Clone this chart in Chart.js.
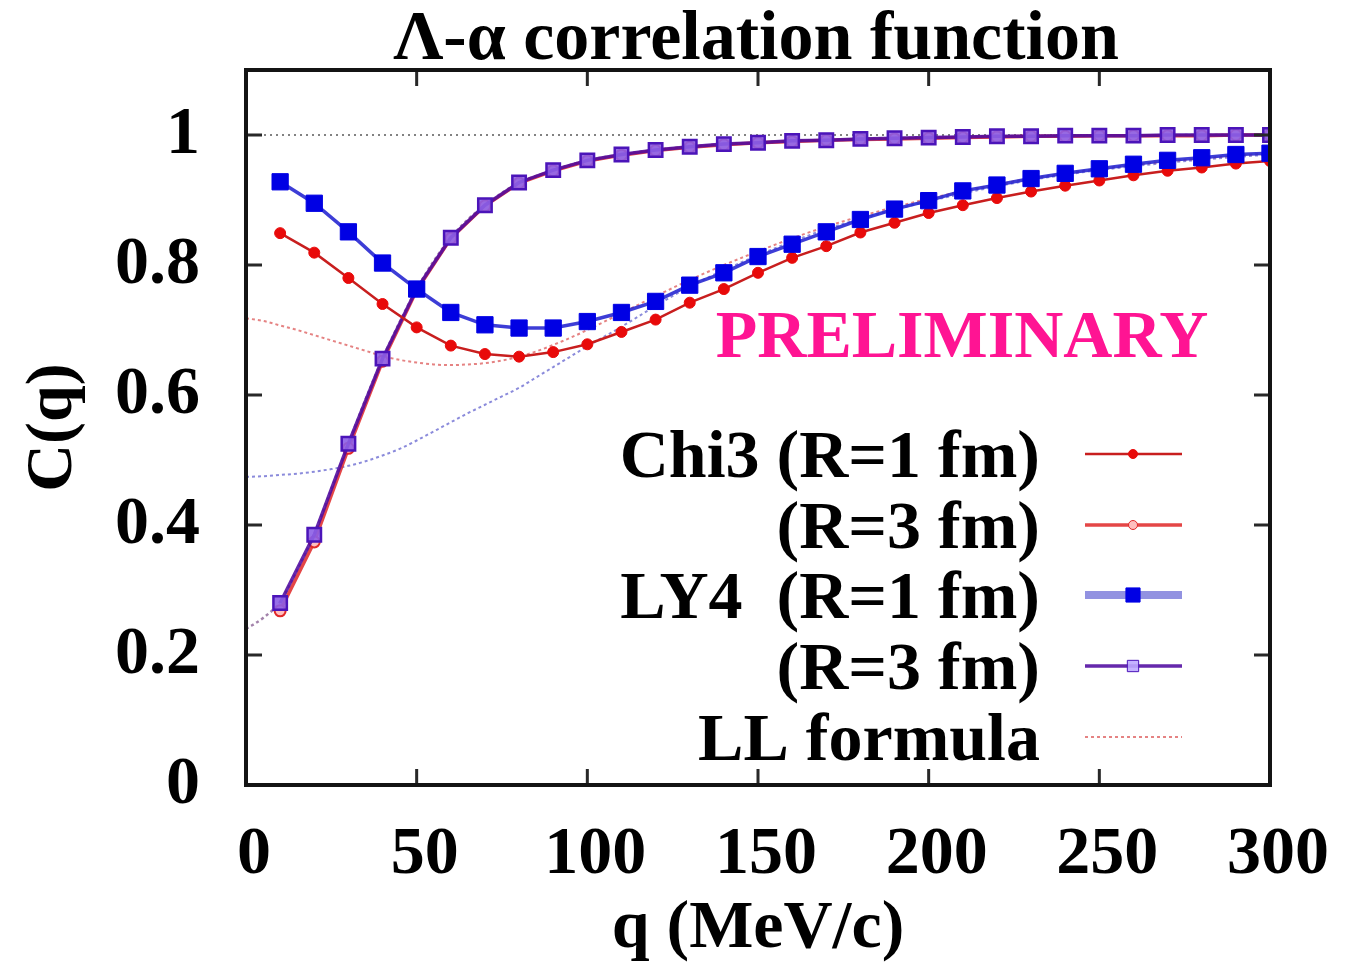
<!DOCTYPE html>
<html><head><meta charset="utf-8">
<script src="https://cdn.jsdelivr.net/npm/chart.js@4.4.1/dist/chart.umd.min.js"></script>
<style>html,body{margin:0;padding:0;background:#fff;} #wrap{width:1347px;height:963px;position:relative;}</style>
</head><body><div id="wrap"><canvas id="c" width="1347" height="963"></canvas></div>
<script>
const titleText = 'Λ-α correlation function';
const xAxisTitle = 'q (MeV/c)';
const yAxisTitle = 'C(q)';
const watermark = 'PRELIMINARY';
const xTickValues = [0, 50, 100, 150, 200, 250, 300];
const xTickLabels = ['0', '50', '100', '150', '200', '250', '300'];
const yTickValues = [0, 0.2, 0.4, 0.6, 0.8, 1];
const yTickLabels = ['0', '0.2', '0.4', '0.6', '0.8', '1'];

const qPoints = [10,20,30,40,50,60,70,80,90,100,110,120,130,140,150,160,170,180,190,200,210,220,230,240,250,260,270,280,290,300];
const chi3R1 = [0.849,0.819,0.780,0.740,0.704,0.676,0.663,0.659,0.666,0.678,0.697,0.716,0.742,0.763,0.788,0.811,0.829,0.850,0.865,0.880,0.892,0.903,0.913,0.922,0.930,0.938,0.945,0.950,0.956,0.960];
const chi3R3 = [0.268,0.374,0.518,0.652,0.761,0.841,0.891,0.926,0.945,0.960,0.969,0.976,0.981,0.985,0.988,0.990,0.992,0.993,0.994,0.995,0.996,0.997,0.998,0.998,0.999,0.999,0.999,0.999,1.0,1.0];
const ly4R1 = [0.928,0.895,0.851,0.803,0.763,0.727,0.708,0.703,0.703,0.713,0.727,0.744,0.769,0.788,0.813,0.832,0.851,0.870,0.886,0.899,0.914,0.923,0.933,0.941,0.948,0.955,0.961,0.965,0.970,0.972];
const ly4R3 = [0.280,0.385,0.525,0.656,0.763,0.842,0.892,0.927,0.946,0.961,0.970,0.977,0.982,0.986,0.988,0.991,0.992,0.994,0.995,0.996,0.997,0.998,0.998,0.999,0.999,0.999,1.0,1.0,1.0,1.0];

const llQ = [0,5,10,15,20,25,30,35,40,45,50,55,60,65,70,75,80,85,90,95,100,110,120,130,140,150,160,170,180,190,200,220,240,260,280,300];
const llChi3R1 = [0.718,0.714,0.707,0.700,0.692,0.684,0.676,0.668,0.660,0.654,0.650,0.647,0.646,0.647,0.649,0.653,0.659,0.667,0.677,0.688,0.700,0.726,0.752,0.777,0.800,0.821,0.841,0.859,0.875,0.889,0.902,0.924,0.941,0.954,0.964,0.972];
const llLY4R1 = [0.474,0.475,0.477,0.479,0.482,0.486,0.491,0.498,0.507,0.517,0.530,0.544,0.558,0.572,0.585,0.598,0.611,0.627,0.643,0.659,0.675,0.705,0.737,0.767,0.792,0.815,0.836,0.855,0.871,0.885,0.898,0.921,0.939,0.952,0.962,0.970];
const llR3 = [0.240,0.257,0.282,0.330,0.386,0.455,0.525,0.593,0.656,0.712,0.763,0.806,0.842,0.870,0.892,0.911,0.927,0.937,0.946,0.954,0.961,0.970,0.977,0.982,0.986,0.988,0.991,0.992,0.994,0.995,0.996,0.998,0.999,0.999,1.0,1.0];

const refQ = [0, 300];
const refC = [1, 1];

const legendLabels = ['Chi3 (R=1 fm)', '(R=3 fm)', 'LY4  (R=1 fm)', '(R=3 fm)', 'LL formula'];

const FONT = "'Liberation Serif', 'Times New Roman', 'DejaVu Serif', serif";
const pts = (xs, ys) => xs.map((x, i) => ({x: x, y: ys[i]}));

const datasets = [
  {label: legendLabels[0], data: pts(qPoints, chi3R1), borderColor: 'rgb(200,30,30)', borderWidth: 2.5,
   pointStyle: 'circle', pointRadius: 5.5, pointBackgroundColor: 'rgb(232,10,10)', pointBorderColor: 'rgb(232,10,10)', pointBorderWidth: 1,
   tension: 0, order: 3, legendRow: 0},
  {label: legendLabels[1], data: pts(qPoints, chi3R3), borderColor: 'rgba(225,50,50,0.9)', borderWidth: 3.5,
   pointStyle: 'circle', pointRadius: 5.5, pointBackgroundColor: 'rgba(255,190,190,1)', pointBorderColor: 'rgb(225,40,40)', pointBorderWidth: 2,
   tension: 0, order: 5, legendRow: 1},
  {label: legendLabels[2], data: pts(qPoints, ly4R1), borderColor: 'rgba(40,40,210,0.9)', borderWidth: 3.5,
   pointStyle: 'rect', pointRadius: 11.5, pointBackgroundColor: 'rgb(0,0,228)', pointBorderColor: 'rgb(0,0,228)', pointBorderWidth: 1,
   tension: 0, order: 2, legendRow: 2},
  {label: legendLabels[3], data: pts(qPoints, ly4R3), borderColor: 'rgba(80,10,160,0.88)', borderWidth: 3.5,
   pointStyle: 'rect', pointRadius: 9.5, pointBackgroundColor: 'rgba(140,95,230,0.9)', pointBorderColor: 'rgb(75,20,185)', pointBorderWidth: 2.5,
   tension: 0, order: 4, legendRow: 3},
  {label: 'LL formula', data: pts(llQ, llChi3R1), borderColor: 'rgba(220,90,90,0.75)', borderWidth: 2, borderDash: [3, 3],
   pointRadius: 0, cubicInterpolationMode: 'monotone', order: 7, legendRow: 4},
  {label: 'LL formula (LY4)', data: pts(llQ, llLY4R1), borderColor: 'rgba(110,110,210,0.8)', borderWidth: 2, borderDash: [3, 3],
   pointRadius: 0, cubicInterpolationMode: 'monotone', order: 8},
  {label: 'LL formula (R=3)', data: pts(llQ, llR3), borderColor: 'rgba(140,100,150,0.8)', borderWidth: 2.5, borderDash: [3, 3],
   pointRadius: 0, cubicInterpolationMode: 'monotone', order: 9},
  {label: 'C=1', data: pts(refQ, refC), borderColor: 'rgba(60,60,60,0.85)', borderWidth: 1.5, borderDash: [2, 4],
   pointRadius: 0, order: 10}
];

const decor = {
  id: 'decor',
  afterDatasetsDraw(chart) {
    const ctx = chart.ctx, a = chart.chartArea, xs = chart.scales.x, ys = chart.scales.y;
    ctx.save();
    ctx.strokeStyle = 'rgb(40,40,40)';
    ctx.lineWidth = 3;
    const tl = 16;
    ctx.beginPath();
    yTickValues.forEach(v => {
      const py = ys.getPixelForValue(v);
      ctx.moveTo(a.left, py); ctx.lineTo(a.left + tl, py);
      ctx.moveTo(a.right, py); ctx.lineTo(a.right - tl, py);
    });
    xTickValues.forEach(v => {
      const px = xs.getPixelForValue(v);
      ctx.moveTo(px, a.bottom); ctx.lineTo(px, a.bottom - tl);
      ctx.moveTo(px, a.top); ctx.lineTo(px, a.top + tl);
    });
    ctx.stroke();
    ctx.strokeStyle = 'rgb(20,20,20)';
    ctx.lineWidth = 4;
    ctx.strokeRect(a.left, a.top, a.right - a.left, a.bottom - a.top);
    ctx.restore();
  },
  afterDraw(chart) {
    const ctx = chart.ctx;
    ctx.save();
    ctx.fillStyle = '#000';
    ctx.font = 'bold 70px ' + FONT;
    ctx.textAlign = 'center';
    ctx.textBaseline = 'alphabetic';
    ctx.fillText(titleText, 756, 59);
    ctx.fillStyle = '#ff1493';
    ctx.font = 'bold 68px ' + FONT;
    ctx.fillText(watermark, 962, 357);
    const rows = [454, 525, 595, 666, 737];
    const x0 = 1085, x1 = 1182, xm = 1133;
    ctx.font = 'bold 68px ' + FONT;
    ctx.textAlign = 'right';
    chart.data.datasets.forEach(ds => {
      if (ds.legendRow === undefined) return;
      const y = rows[ds.legendRow];
      ctx.fillStyle = '#000';
      ctx.fillText(ds.label, 1040, y + 23);
      ctx.save();
      ctx.strokeStyle = ds.legendRow === 2 ? 'rgba(110,110,215,0.75)' : ds.borderColor;
      ctx.lineWidth = ds.legendRow === 2 ? 8 : ds.borderWidth;
      if (ds.borderDash) ctx.setLineDash(ds.borderDash);
      ctx.beginPath(); ctx.moveTo(x0, y); ctx.lineTo(x1, y); ctx.stroke();
      ctx.restore();
      if (ds.pointRadius > 0) {
        ctx.save();
        ctx.fillStyle = ds.legendRow === 3 ? 'rgba(190,170,255,0.9)' : ds.pointBackgroundColor;
        ctx.strokeStyle = ds.pointBorderColor;
        const r = ds.legendRow <= 1 ? 4.5 : ds.legendRow === 2 ? 10 : 8;
        Chart.helpers.drawPoint(ctx, {pointStyle: ds.pointStyle, rotation: 0, radius: r, borderWidth: ds.pointBorderWidth}, xm, y);
        ctx.restore();
      }
    });
    ctx.restore();
  }
};

Chart.defaults.font.family = FONT;
Chart.defaults.color = '#000';

new Chart(document.getElementById('c'), {
  type: 'line',
  data: {datasets: datasets},
  options: {
    responsive: false,
    animation: false,
    layout: {padding: {left: 0, right: 77, top: 70, bottom: 0}},
    plugins: {legend: {display: false}, title: {display: false}, tooltip: {enabled: false}},
    scales: {
      x: {
        type: 'linear', min: 0, max: 300,
        afterBuildTicks: s => { s.ticks = xTickValues.map(v => ({value: v})); },
        afterFit: s => { s.height = 178; s.paddingLeft = 0; s.paddingRight = 0; },
        grid: {display: false, drawTicks: false},
        border: {display: false},
        ticks: {
          autoSkip: false, maxRotation: 0, padding: 30, labelOffset: 8,
          font: {size: 68, weight: 'bold', family: FONT}, color: '#000',
          callback: (v, i) => xTickLabels[i]
        },
        title: {display: true, text: xAxisTitle, font: {size: 68, weight: 'bold', family: FONT, lineHeight: 1}, padding: {top: 0, bottom: 0}, color: '#000'}
      },
      y: {
        type: 'linear', min: 0, max: 1.1,
        afterBuildTicks: s => { s.ticks = yTickValues.map(v => ({value: v})); },
        afterFit: s => { s.width = 246; s.paddingTop = 0; s.paddingBottom = 0; },
        grid: {display: false, drawTicks: false},
        border: {display: false},
        ticks: {
          padding: 46,
          font: {size: 68, weight: 'bold', family: FONT}, color: '#000',
          callback: (v, i) => yTickLabels[i]
        },
        title: {display: true, text: yAxisTitle, font: {size: 66, weight: 'bold', family: FONT, lineHeight: 1}, padding: {top: 21, bottom: 0}, color: '#000'}
      }
    }
  },
  plugins: [decor]
});
</script>
</body></html>
